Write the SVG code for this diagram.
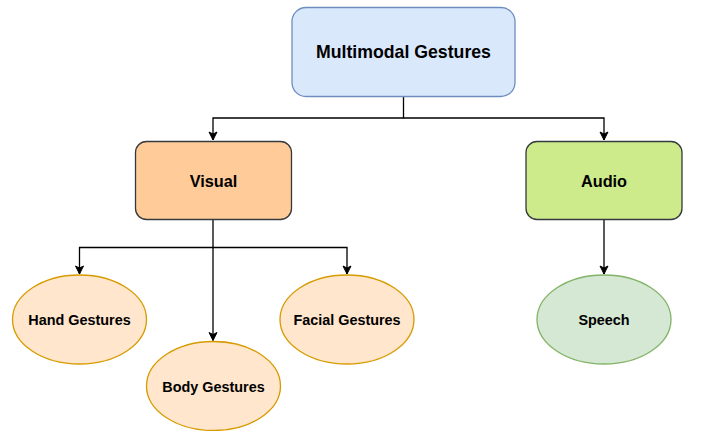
<svg xmlns="http://www.w3.org/2000/svg" width="702" height="431" viewBox="0 0 702 431">
<defs>
<marker id="arr" markerWidth="10" markerHeight="10" refX="9" refY="5" orient="auto" markerUnits="userSpaceOnUse">
<path d="M1,1 L9,5 L1,9 L3,5 Z" fill="#000" stroke="#000" stroke-width="1"/>
</marker>
<style>
text{font-family:"Liberation Sans",Arial,sans-serif;font-weight:bold;fill:#000;text-anchor:middle;dominant-baseline:central}
.edge{fill:none;stroke:#000;stroke-width:1.3}
.ell{fill:#ffe6cc;stroke:#d79b00;stroke-width:1.3}
</style>
</defs>
<rect width="702" height="431" fill="#fff"/>
<g id="connectors">
<path class="edge" d="M403.5,96.5 V118 H213 V140" marker-end="url(#arr)"/>
<path class="edge" d="M403.5,118 H604 V140" marker-end="url(#arr)"/>
<path class="edge" d="M213,219 V247.5 H79.5 V274" marker-end="url(#arr)"/>
<path class="edge" d="M213,247.5 H347 V274" marker-end="url(#arr)"/>
<path class="edge" d="M213,247.5 V340.5" marker-end="url(#arr)"/>
<path class="edge" d="M604,219 V274" marker-end="url(#arr)"/>
</g>
<g id="multimodal">
<rect x="292" y="7.5" width="223" height="89" rx="14" fill="#dae8fc" stroke="#6c8ebf" stroke-width="1.3"/>
<text x="403.5" y="52" font-size="17.7">Multimodal Gestures</text>
</g>
<g id="visual">
<rect x="135.5" y="141.5" width="156" height="78" rx="11" fill="#ffcc99" stroke="#36393d" stroke-width="1.3"/>
<text x="213.5" y="181" font-size="16.3">Visual</text>
</g>
<g id="audio">
<rect x="526" y="141.5" width="156" height="78" rx="11" fill="#cdeb8b" stroke="#36393d" stroke-width="1.3"/>
<text x="604" y="181" font-size="16.3">Audio</text>
</g>
<g id="hand">
<ellipse class="ell" cx="79.5" cy="319.5" rx="67" ry="44.5"/>
<text x="79.5" y="320" font-size="14.4">Hand Gestures</text>
</g>
<g id="body">
<ellipse class="ell" cx="213.5" cy="386" rx="67" ry="44.5"/>
<text x="213.5" y="386.5" font-size="14.4">Body Gestures</text>
</g>
<g id="facial">
<ellipse class="ell" cx="347" cy="319.5" rx="67" ry="44.5"/>
<text x="347" y="320" font-size="14.4">Facial Gestures</text>
</g>
<g id="speech">
<ellipse cx="604" cy="319.5" rx="67" ry="44.5" fill="#d5e8d4" stroke="#82b366" stroke-width="1.3"/>
<text x="604" y="320" font-size="14.4">Speech</text>
</g>
</svg>
